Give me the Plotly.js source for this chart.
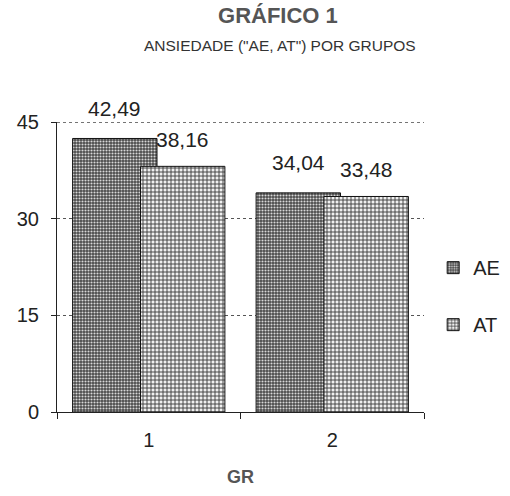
<!DOCTYPE html>
<html><head><meta charset="utf-8">
<script src="https://cdn.plot.ly/plotly-3.0.1.min.js"></script>
<style>html,body{margin:0;padding:0;background:#fff}</style>
</head><body>
<div id="chart" style="width:510px;height:496px"></div>
<script>
const categories = ['1', '2'];
const seriesNames = ['AE', 'AT'];
const aeValues = [42.49, 34.04];
const atValues = [38.16, 33.48];
const aeLabels = ['42,49', '34,04'];
const atLabels = ['38,16', '33,48'];
const yTicks = [0, 15, 30, 45];

const barWidth = 0.46;
const aeOffset = -0.415, atOffset = -0.045;

const traces = [
  {type:'bar', name:seriesNames[0], x:categories, y:aeValues, width:barWidth, offset:aeOffset,
   legendgroup:'a',
   marker:{color:'#666', line:{color:'#111', width:1},
     pattern:{shape:'.', bgcolor:'#4a4a4a', fgcolor:'#d8d8d8', size:3, solidity:0.4}}},
  {type:'bar', name:seriesNames[1], x:categories, y:atValues, width:barWidth, offset:atOffset,
   legendgroup:'b',
   marker:{color:'#bbb', line:{color:'#111', width:1},
     pattern:{shape:'+', bgcolor:'#f0f0f0', fgcolor:'#3a3a3a', size:4, solidity:0.4}}}
];

const annotations = [];
categories.forEach((c, i) => {
  annotations.push({x: i + aeOffset + barWidth/2, y: aeValues[i], xref:'x', yref:'y',
    text: aeLabels[i], showarrow:false, yshift:30, font:{size:21, color:'#222'}});
  annotations.push({x: i + atOffset + barWidth/2, y: atValues[i], xref:'x', yref:'y',
    text: atLabels[i], showarrow:false, yshift:27, font:{size:21, color:'#222'}});
});
annotations.push({text:'ANSIEDADE ("AE, AT") POR GRUPOS', xref:'paper', yref:'paper',
  x:0.607, y:1.3, showarrow:false, font:{size:15.5, color:'#333'}});

const topTick = yTicks[yTicks.length - 1];
const shapes = [{type:'line', xref:'paper', yref:'y', x0:0, x1:1, y0:topTick, y1:topTick,
  line:{color:'#555', width:1, dash:'dot'}, layer:'below'}];

const layout = {
  width:510, height:496,
  margin:{l:57, r:86, t:122, b:84, autoexpand:false},
  paper_bgcolor:'#fff', plot_bgcolor:'#fff',
  font:{family:'"Liberation Sans", Arial, sans-serif', color:'#222'},
  title:{text:'<b>GRÁFICO 1</b>', x:0.545, xref:'container', y:0.985, yref:'container',
    font:{size:22, color:'#555'}},
  barmode:'overlay',
  showlegend:true,
  legend:{x:1.025, y:0.565, xanchor:'left', yanchor:'top', tracegroupgap:28,
    font:{size:20, color:'#222'}, itemwidth:30, bgcolor:'rgba(0,0,0,0)'},
  xaxis:{type:'category', range:[-0.5, 1.5], tickson:'boundaries', ticks:'outside', ticklen:6,
    tickcolor:'#222', showline:true, linecolor:'#222', linewidth:1, showgrid:false,
    tickfont:{size:20}, ticklabelstandoff:10,
    title:{text:'<b>GR</b>', font:{size:18, color:'#555'}, standoff:20}},
  yaxis:{range:[0, 45.05], tickvals:yTicks, ticktext:yTicks.map(String), ticks:'outside', ticklen:5,
    tickcolor:'#222', showline:true, linecolor:'#222', linewidth:1,
    showgrid:true, gridcolor:'#555', griddash:'dot', gridwidth:1, zeroline:false,
    tickfont:{size:20}, ticklabelstandoff:8},
  shapes: shapes,
  annotations: annotations
};

Plotly.newPlot('chart', traces, layout, {displayModeBar:false, staticPlot:true});
</script>
</body></html>
